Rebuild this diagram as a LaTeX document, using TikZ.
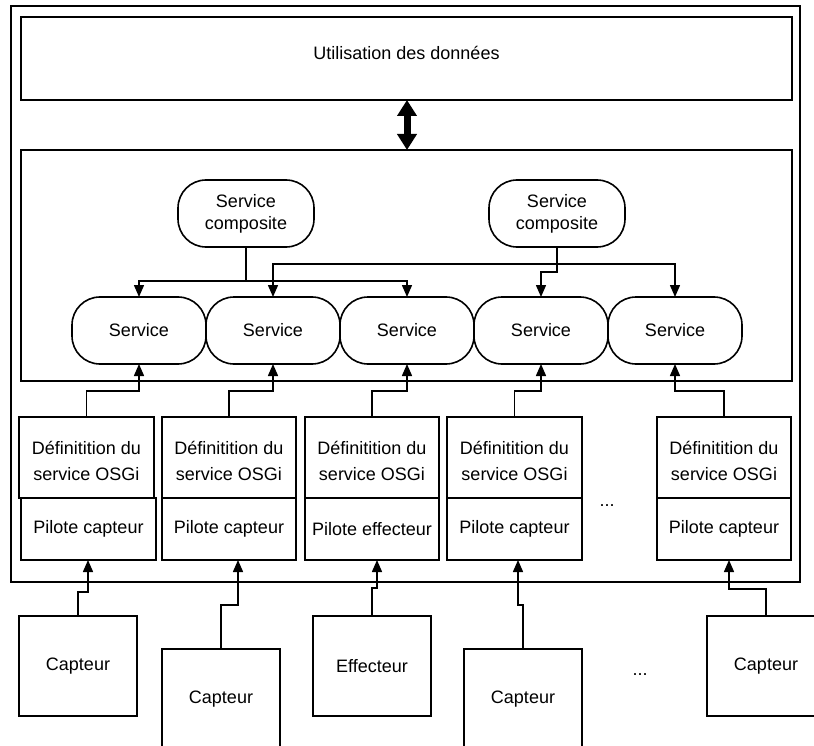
\documentclass[tikz,border=0pt]{standalone}
\usepackage{fontspec}
\setmainfont{Liberation Sans}
\usetikzlibrary{arrows.meta}
\begin{document}
\begin{tikzpicture}[x=1pt,y=-1pt,
  every node/.style={font=\fontsize{18}{22}\selectfont, inner sep=0pt, outer sep=0pt},
  frame/.style={draw, line width=1.6pt},
  box/.style={draw, line width=1.6pt, rectangle, align=center},
  svc/.style={draw, line width=1.6pt, rounded corners=28pt, align=center, minimum height=67pt},
  conn/.style={line width=1.5pt, -{Triangle[length=12pt,width=10pt]}},
  plain/.style={line width=1.5pt},
  big/.style={line width=7pt, {Triangle[length=16pt,width=19pt]}-{Triangle[length=16pt,width=19pt]}},
  deftext/.style={font=\fontsize{18}{26}\selectfont, align=center}
]
\clip (0,0) rectangle (814,746);
\useasboundingbox (0,0) rectangle (814,746);
\fill[white] (0,0) rectangle (814,746);

% outer frame and big boxes
\node[frame, minimum width=789pt, minimum height=576pt] (outer) at (405.5,294) {};
\node[box, minimum width=771pt, minimum height=83pt] (use) at (406.5,58.5) {};
\node (usetext) at (406.5,53) {Utilisation des données};
\node[box, minimum width=771pt, minimum height=231pt] (frameS) at (406.5,265.5) {};

\coordinate (ua) at (407,100);
\coordinate (ub) at (407,150);
\draw[big] (ua) -- (ub);

% composite services
\node[svc, minimum width=136pt] (c1) at (246,213.5) {Service\\composite};
\node[svc, minimum width=136pt] (c2) at (557,213.5) {Service\\composite};

% services
\node[svc, minimum width=134pt] (s1) at (139,330.5) {Service};
\node[svc, minimum width=134pt] (s2) at (273,330.5) {Service};
\node[svc, minimum width=134pt] (s3) at (407,330.5) {Service};
\node[svc, minimum width=134pt] (s4) at (541,330.5) {Service};
\node[svc, minimum width=134pt] (s5) at (675,330.5) {Service};

% composite connections
\draw[plain] (c1.south) -- ++(0,34) coordinate (j1);
\draw[conn] (j1) -| (s1.north);
\draw[conn] (j1) -| (s3.north);
\draw[plain] (c2.south) -- ++(0,17) coordinate (j2);
\draw[conn] (j2) -| (s2.north);
\draw[conn] (j2) -| (s5.north);
\draw[conn] (c2.south) -- ++(0,25) -| (s4.north);

% definition boxes
\node[box, minimum width=135pt, minimum height=81pt] (d1) at (86.5,457.5) {};
\node[box, minimum width=135pt, minimum height=62pt] (p1) at (88.5,529) {Pilote capteur};
\node[box, minimum width=134pt, minimum height=81pt] (d2) at (229,457.5) {};
\node[box, minimum width=134pt, minimum height=62pt] (p2) at (229,529) {Pilote capteur};
\node[box, minimum width=134pt, minimum height=81pt] (d3) at (372,457.5) {};
\node[box, minimum width=134pt, minimum height=62pt] (p3) at (372,529) {Pilote effecteur};
\node[box, minimum width=135pt, minimum height=81pt] (d4) at (514.5,457.5) {};
\node[box, minimum width=135pt, minimum height=62pt] (p4) at (514.5,529) {Pilote capteur};
\node[box, minimum width=134pt, minimum height=81pt] (d5) at (724,457.5) {};
\node[box, minimum width=134pt, minimum height=62pt] (p5) at (724,529) {Pilote capteur};
\node[deftext] (t1) at (86.5,461) {Définitition du\\service OSGi};
\node[deftext] (t2) at (229,461) {Définitition du\\service OSGi};
\node[deftext] (t3) at (372,461) {Définitition du\\service OSGi};
\node[deftext] (t4) at (514.5,461) {Définitition du\\service OSGi};
\node[deftext] (t5) at (724,461) {Définitition du\\service OSGi};
\node (dots1) at (607,506) {...};

% definition -> service
\draw[conn] (d1.north) -- ++(0,-26) -| (s1.south);
\draw[conn] (d2.north) -- ++(0,-26) -| (s2.south);
\draw[conn] (d3.north) -- ++(0,-26) -| (s3.south);
\draw[conn] (d4.north) -- ++(0,-26) -| (s4.south);
\draw[conn] (d5.north) -- ++(0,-26) -| (s5.south);

% sensors
\node[box, minimum width=118pt, minimum height=100pt] (k1) at (78,666) {Capteur};
\node[box, minimum width=118pt, minimum height=100pt] (k2) at (221,699) {Capteur};
\node[box, minimum width=118pt, minimum height=100pt] (k3) at (372,666) {Effecteur};
\node[box, minimum width=118pt, minimum height=100pt] (k4) at (523,699) {Capteur};
\node[box, minimum width=118pt, minimum height=100pt] (k5) at (766,666) {Capteur};
\node (dots2) at (640,675) {...};

% sensor -> pilot
\draw[conn] (k1.north) -- ++(0,-24) -| ([xshift=-0.5pt]p1.south);
\draw[conn] (k2.north) -- ++(0,-44) -| ([xshift=9pt]p2.south);
\draw[conn] (k3.north) -- ++(0,-28) -| ([xshift=5pt]p3.south);
\draw[conn] (k4.north) -- ++(0,-44) -| ([xshift=3.5pt]p4.south);
\draw[conn] (k5.north) -- ++(0,-27) -| ([xshift=5pt]p5.south);
\end{tikzpicture}
\end{document}
